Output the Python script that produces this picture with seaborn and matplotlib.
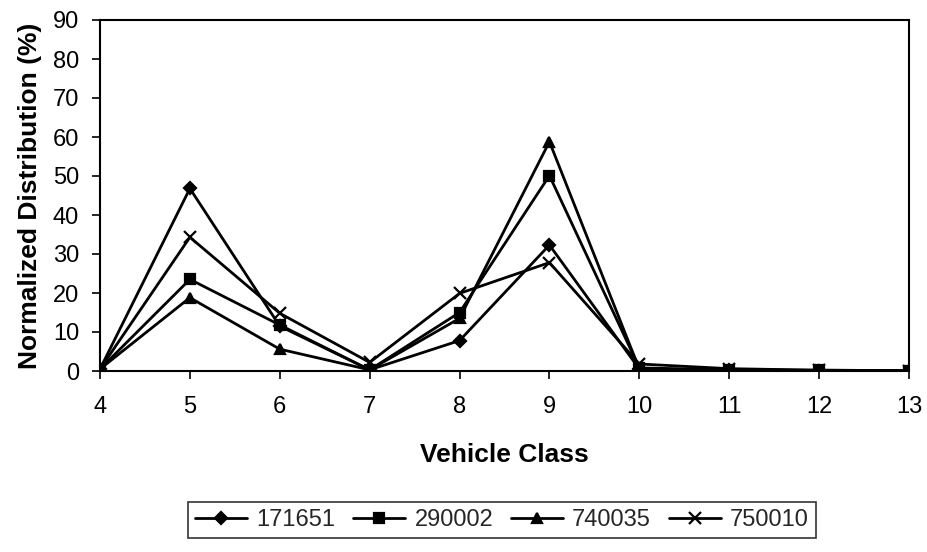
import matplotlib
matplotlib.use("Agg")
import matplotlib.pyplot as plt
import seaborn as sns
import pandas as pd

vehicle_class = [4, 5, 6, 7, 8, 9, 10, 11, 12, 13]
s171651 = [0.5, 46.8, 11.5, 0.3, 7.8, 32.3, 0.5, 0.3, 0.1, 0.1]
s290002 = [0.5, 23.5, 11.8, 0.3, 15.0, 50.1, 0.8, 0.3, 0.2, 0.1]
s740035 = [0.5, 18.8, 5.6, 0.3, 13.5, 58.8, 0.5, 0.2, 0.1, 0.0]
s750010 = [0.5, 34.3, 14.8, 2.2, 19.9, 27.8, 1.8, 0.6, 0.2, 0.1]
series_names = ["171651", "290002", "740035", "750010"]

rows = []
for name, vals in zip(series_names, [s171651, s290002, s740035, s750010]):
    for x, v in zip(vehicle_class, vals):
        rows.append({"Vehicle Class": x, "Value": v, "Series": name})
df = pd.DataFrame(rows)

sns.set_theme(style="white")
plt.rcParams['font.family'] = ['Liberation Sans', 'DejaVu Sans']

fig = plt.figure(figsize=(9.28, 5.52), dpi=100)
ax = fig.add_axes([100/928, 1-371/552, 809/928, 351/552])

markers = {"171651": "D", "290002": "s", "740035": "^", "750010": "x"}
msizes = {"171651": 8, "290002": 9, "740035": 9, "750010": 10}
for name in series_names:
    sub = df[df["Series"] == name]
    sns.lineplot(data=sub, x="Vehicle Class", y="Value", color="black",
                 marker=markers[name], markersize=msizes[name], markeredgewidth=1.6,
                 markeredgecolor="black", markerfacecolor="black",
                 linewidth=2, label=name, ax=ax)

ax.set_xlim(4, 13)
ax.set_ylim(0, 90)
ax.set_xticks(vehicle_class)
ax.set_yticks(range(0, 91, 10))
ax.tick_params(axis="both", labelsize=17, direction="out", length=6, width=1.2,
               color="black", labelcolor="black", bottom=True, left=True)
ax.tick_params(axis="y", pad=9)
ax.tick_params(axis="x", pad=12)
for s in ax.spines.values():
    s.set_color("black")
    s.set_linewidth(1.5)
ax.set_xlabel("Vehicle Class", fontsize=19, fontweight="bold", color="black")
ax.set_ylabel("Normalized Distribution (%)", fontsize=19, fontweight="bold", color="black")
ax.xaxis.set_label_coords(0.5, (371-455)/351)
ax.yaxis.set_label_coords((30-100)/809, 0.5)
ax.xaxis.label.set_va("center")
ax.yaxis.label.set_va("center")

handles, labels = ax.get_legend_handles_labels()
for h in handles:
    h.set_markersize(h.get_markersize() * 0.8)
leg = ax.legend(handles, labels, loc="center", bbox_to_anchor=(502/928, 1-520/552),
                bbox_transform=fig.transFigure, ncol=4, frameon=True, fancybox=False,
                fontsize=17, handlelength=2.2, handletextpad=0.4, columnspacing=0.75,
                borderpad=0.3, borderaxespad=0, edgecolor="black")
leg.get_frame().set_linewidth(1.2)

fig.savefig("out.png", dpi=100)
